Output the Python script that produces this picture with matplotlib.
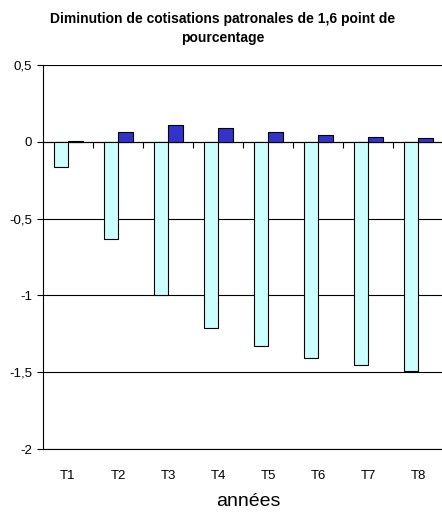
import matplotlib
matplotlib.use("Agg")
import matplotlib.pyplot as plt
import numpy as np

categories = ["T1", "T2", "T3", "T4", "T5", "T6", "T7", "T8"]
serie_light = [-0.165, -0.63, -1.0, -1.21, -1.33, -1.41, -1.45, -1.49]
serie_dark = [0.005, 0.063, 0.109, 0.093, 0.063, 0.046, 0.033, 0.024]
yticks = [-2, -1.5, -1, -0.5, 0, 0.5]
ytick_labels = ["-2", "-1,5", "-1", "-0,5", "0", "0,5"]

plt.rcParams['font.family'] = ['Liberation Sans', 'DejaVu Sans']

fig = plt.figure(figsize=(4.42, 5.12), dpi=100)
ax = fig.add_axes([43/442, 1-449/512, 400/442, 384/512])

x = np.arange(len(categories))
w = 0.29
ax.bar(x - w/2, serie_light, width=w, color="#CCFFFF", edgecolor="black", linewidth=0.8, zorder=3)
ax.bar(x + w/2, serie_dark, width=w, color="#3333CC", edgecolor="black", linewidth=0.8, zorder=3)

ax.set_xlim(-0.5, len(categories) - 0.5)
ax.set_ylim(-2, 0.5)
ax.set_yticks(yticks)
ax.set_yticklabels(ytick_labels, fontsize=9.5)
ax.yaxis.grid(True, color="black", linewidth=0.8, zorder=1)
ax.set_axisbelow(True)

ax.set_xticks(x)
ax.set_xticklabels(categories, fontsize=9.5)
ax.tick_params(axis='x', length=0, pad=15)
ax.tick_params(axis='y', length=4, width=0.8, direction='out', pad=4)

for s in ["top", "right"]:
    ax.spines[s].set_visible(False)
ax.spines["left"].set_linewidth(0.8)
ax.spines["bottom"].set_linewidth(0.8)

sec = ax.secondary_xaxis(0.8)
sec.set_xticks(np.arange(len(categories) - 1) + 0.5)
sec.set_xticklabels([])
sec.tick_params(length=4, width=0.8, direction='in')
sec.spines["bottom"].set_linewidth(0.8)

fig.text(223/442, 1-19/512, "Diminution de cotisations patronales de 1,6 point de",
         ha="center", va="center", fontsize=10, fontweight="bold")
fig.text(223/442, 1-38/512, "pourcentage",
         ha="center", va="center", fontsize=10, fontweight="bold")
fig.text(248/442, 1-501/512, "années", ha="center", va="center", fontsize=14)

fig.savefig("out.png", dpi=100)
